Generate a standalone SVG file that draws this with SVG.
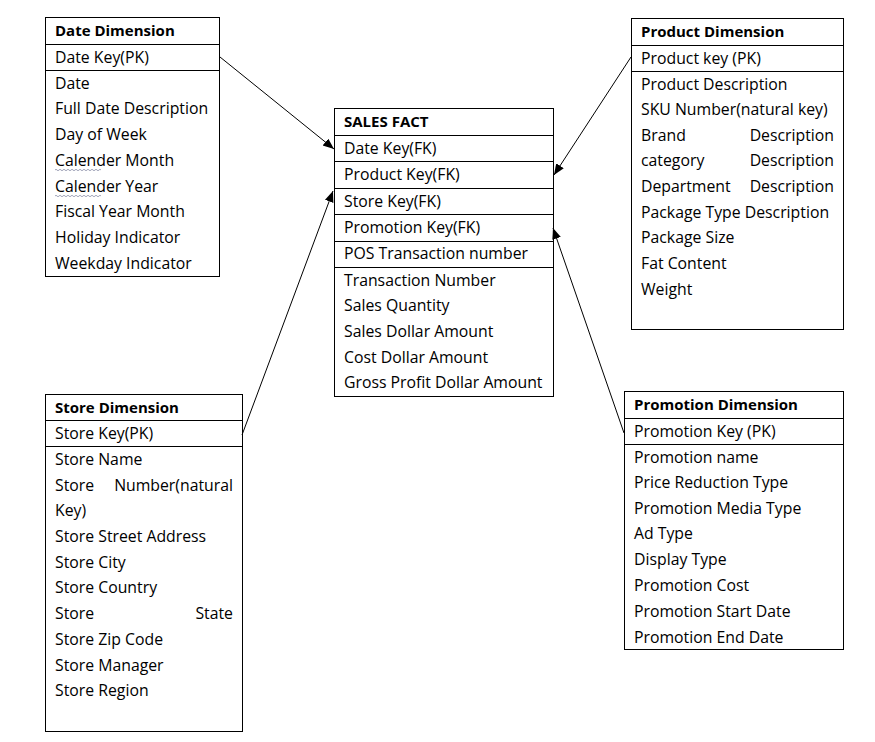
<svg xmlns="http://www.w3.org/2000/svg" width="875" height="742" viewBox="0 0 875 742">
<style>
  .box { fill: #ffffff; stroke: #000000; stroke-width: 1; }
  .sep { stroke: #000000; stroke-width: 1; }
  .t { font-family: "Open Sans", "Noto Sans", "Liberation Sans", sans-serif; font-size: 15.8px; fill: #000000; }
  .h { font-weight: bold; font-size: 15px; }
  .conn { stroke: #000000; stroke-width: 1; fill: none; }
  .squig { stroke: #8a8fa8; stroke-width: 0.8; fill: none; }
</style>
<defs>
  <marker id="arrow" markerUnits="userSpaceOnUse" markerWidth="12" markerHeight="10" refX="11" refY="4.5" orient="auto">
    <path d="M0,0 L11,4.5 L0,9 Z" fill="#000000"/>
  </marker>
</defs>
<rect width="875" height="742" fill="#ffffff"/>

<g id="date-dimension">
  <rect class="box" x="45.5" y="17.5" width="174" height="259"/>
  <line class="sep" x1="45.5" y1="44.5" x2="219.5" y2="44.5"/>
  <line class="sep" x1="45.5" y1="70.5" x2="219.5" y2="70.5"/>
  <text class="t h" x="55" y="36">Date Dimension</text>
  <text class="t" x="55" y="63">Date Key(PK)</text>
  <text class="t" x="55" y="89">Date</text>
  <text class="t" x="55" y="114">Full Date Description</text>
  <text class="t" x="55" y="140">Day of Week</text>
  <text class="t" x="55" y="166">Calender Month</text>
  <text class="t" x="55" y="192">Calender Year</text>
  <text class="t" x="55" y="217">Fiscal Year Month</text>
  <text class="t" x="55" y="243">Holiday Indicator</text>
  <text class="t" x="55" y="269">Weekday Indicator</text>
  <path class="squig" d="M55,170 q1,-1.5 2,0 t2,0 t2,0 t2,0 t2,0 t2,0 t2,0 t2,0 t2,0 t2,0 t2,0 t2,0 t2,0 t2,0 t2,0 t2,0 t2,0 t2,0 t2,0 t2,0 t2,0 t2,0 t2,0"/>
  <path class="squig" d="M55,196 q1,-1.5 2,0 t2,0 t2,0 t2,0 t2,0 t2,0 t2,0 t2,0 t2,0 t2,0 t2,0 t2,0 t2,0 t2,0 t2,0 t2,0 t2,0 t2,0 t2,0 t2,0 t2,0 t2,0 t2,0"/>
</g>

<g id="sales-fact">
  <rect class="box" x="334.5" y="108.5" width="219" height="288"/>
  <line class="sep" x1="334.5" y1="135.5" x2="553.5" y2="135.5"/>
  <line class="sep" x1="334.5" y1="161.5" x2="553.5" y2="161.5"/>
  <line class="sep" x1="334.5" y1="188.5" x2="553.5" y2="188.5"/>
  <line class="sep" x1="334.5" y1="214.5" x2="553.5" y2="214.5"/>
  <line class="sep" x1="334.5" y1="241.5" x2="553.5" y2="241.5"/>
  <line class="sep" x1="334.5" y1="267.5" x2="553.5" y2="267.5"/>
  <text class="t h" x="344" y="127">SALES FACT</text>
  <text class="t" x="344" y="154">Date Key(FK)</text>
  <text class="t" x="344" y="180">Product Key(FK)</text>
  <text class="t" x="344" y="207">Store Key(FK)</text>
  <text class="t" x="344" y="233">Promotion Key(FK)</text>
  <text class="t" x="344" y="259">POS Transaction number</text>
  <text class="t" x="344" y="286">Transaction Number</text>
  <text class="t" x="344" y="311">Sales Quantity</text>
  <text class="t" x="344" y="337">Sales Dollar Amount</text>
  <text class="t" x="344" y="363">Cost Dollar Amount</text>
  <text class="t" x="344" y="388">Gross Profit Dollar Amount</text>
</g>

<g id="product-dimension">
  <rect class="box" x="631.5" y="18.5" width="212" height="311"/>
  <line class="sep" x1="631.5" y1="45.5" x2="843.5" y2="45.5"/>
  <line class="sep" x1="631.5" y1="71.5" x2="843.5" y2="71.5"/>
  <text class="t h" x="641" y="37">Product Dimension</text>
  <text class="t" x="641" y="64">Product key (PK)</text>
  <text class="t" x="641" y="90">Product Description</text>
  <text class="t" x="641" y="115">SKU Number(natural key)</text>
  <text class="t" x="641" y="141">Brand</text>
  <text class="t" x="834" y="141" text-anchor="end">Description</text>
  <text class="t" x="641" y="166">category</text>
  <text class="t" x="834" y="166" text-anchor="end">Description</text>
  <text class="t" x="641" y="192">Department</text>
  <text class="t" x="834" y="192" text-anchor="end">Description</text>
  <text class="t" x="641" y="218">Package Type Description</text>
  <text class="t" x="641" y="243">Package Size</text>
  <text class="t" x="641" y="269">Fat Content</text>
  <text class="t" x="641" y="295">Weight</text>
</g>

<g id="store-dimension">
  <rect class="box" x="45.5" y="394.5" width="197" height="337"/>
  <line class="sep" x1="45.5" y1="420.5" x2="242.5" y2="420.5"/>
  <line class="sep" x1="45.5" y1="446.5" x2="242.5" y2="446.5"/>
  <text class="t h" x="55" y="413">Store Dimension</text>
  <text class="t" x="55" y="439">Store Key(PK)</text>
  <text class="t" x="55" y="465">Store Name</text>
  <text class="t" x="55" y="491">Store</text>
  <text class="t" x="233" y="491" text-anchor="end">Number(natural</text>
  <text class="t" x="55" y="516">Key)</text>
  <text class="t" x="55" y="542">Store Street Address</text>
  <text class="t" x="55" y="568">Store City</text>
  <text class="t" x="55" y="593">Store Country</text>
  <text class="t" x="55" y="619">Store</text>
  <text class="t" x="233" y="619" text-anchor="end">State</text>
  <text class="t" x="55" y="645">Store Zip Code</text>
  <text class="t" x="55" y="671">Store Manager</text>
  <text class="t" x="55" y="696">Store Region</text>
</g>

<g id="promotion-dimension">
  <rect class="box" x="624.5" y="391.5" width="219" height="258"/>
  <line class="sep" x1="624.5" y1="418.5" x2="843.5" y2="418.5"/>
  <line class="sep" x1="624.5" y1="444.5" x2="843.5" y2="444.5"/>
  <text class="t h" x="634" y="410">Promotion Dimension</text>
  <text class="t" x="634" y="437">Promotion Key (PK)</text>
  <text class="t" x="634" y="463">Promotion name</text>
  <text class="t" x="634" y="488">Price Reduction Type</text>
  <text class="t" x="634" y="514">Promotion Media Type</text>
  <text class="t" x="634" y="539">Ad Type</text>
  <text class="t" x="634" y="565">Display Type</text>
  <text class="t" x="634" y="591">Promotion Cost</text>
  <text class="t" x="634" y="617">Promotion Start Date</text>
  <text class="t" x="634" y="643">Promotion End Date</text>
</g>

<g id="connectors">
  <line class="conn" x1="220" y1="57" x2="334" y2="149" marker-end="url(#arrow)"/>
  <line class="conn" x1="631" y1="57" x2="554" y2="175" marker-end="url(#arrow)"/>
  <line class="conn" x1="242" y1="435" x2="333" y2="191" marker-end="url(#arrow)"/>
  <line class="conn" x1="624" y1="433" x2="553" y2="228" marker-end="url(#arrow)"/>
</g>
</svg>
